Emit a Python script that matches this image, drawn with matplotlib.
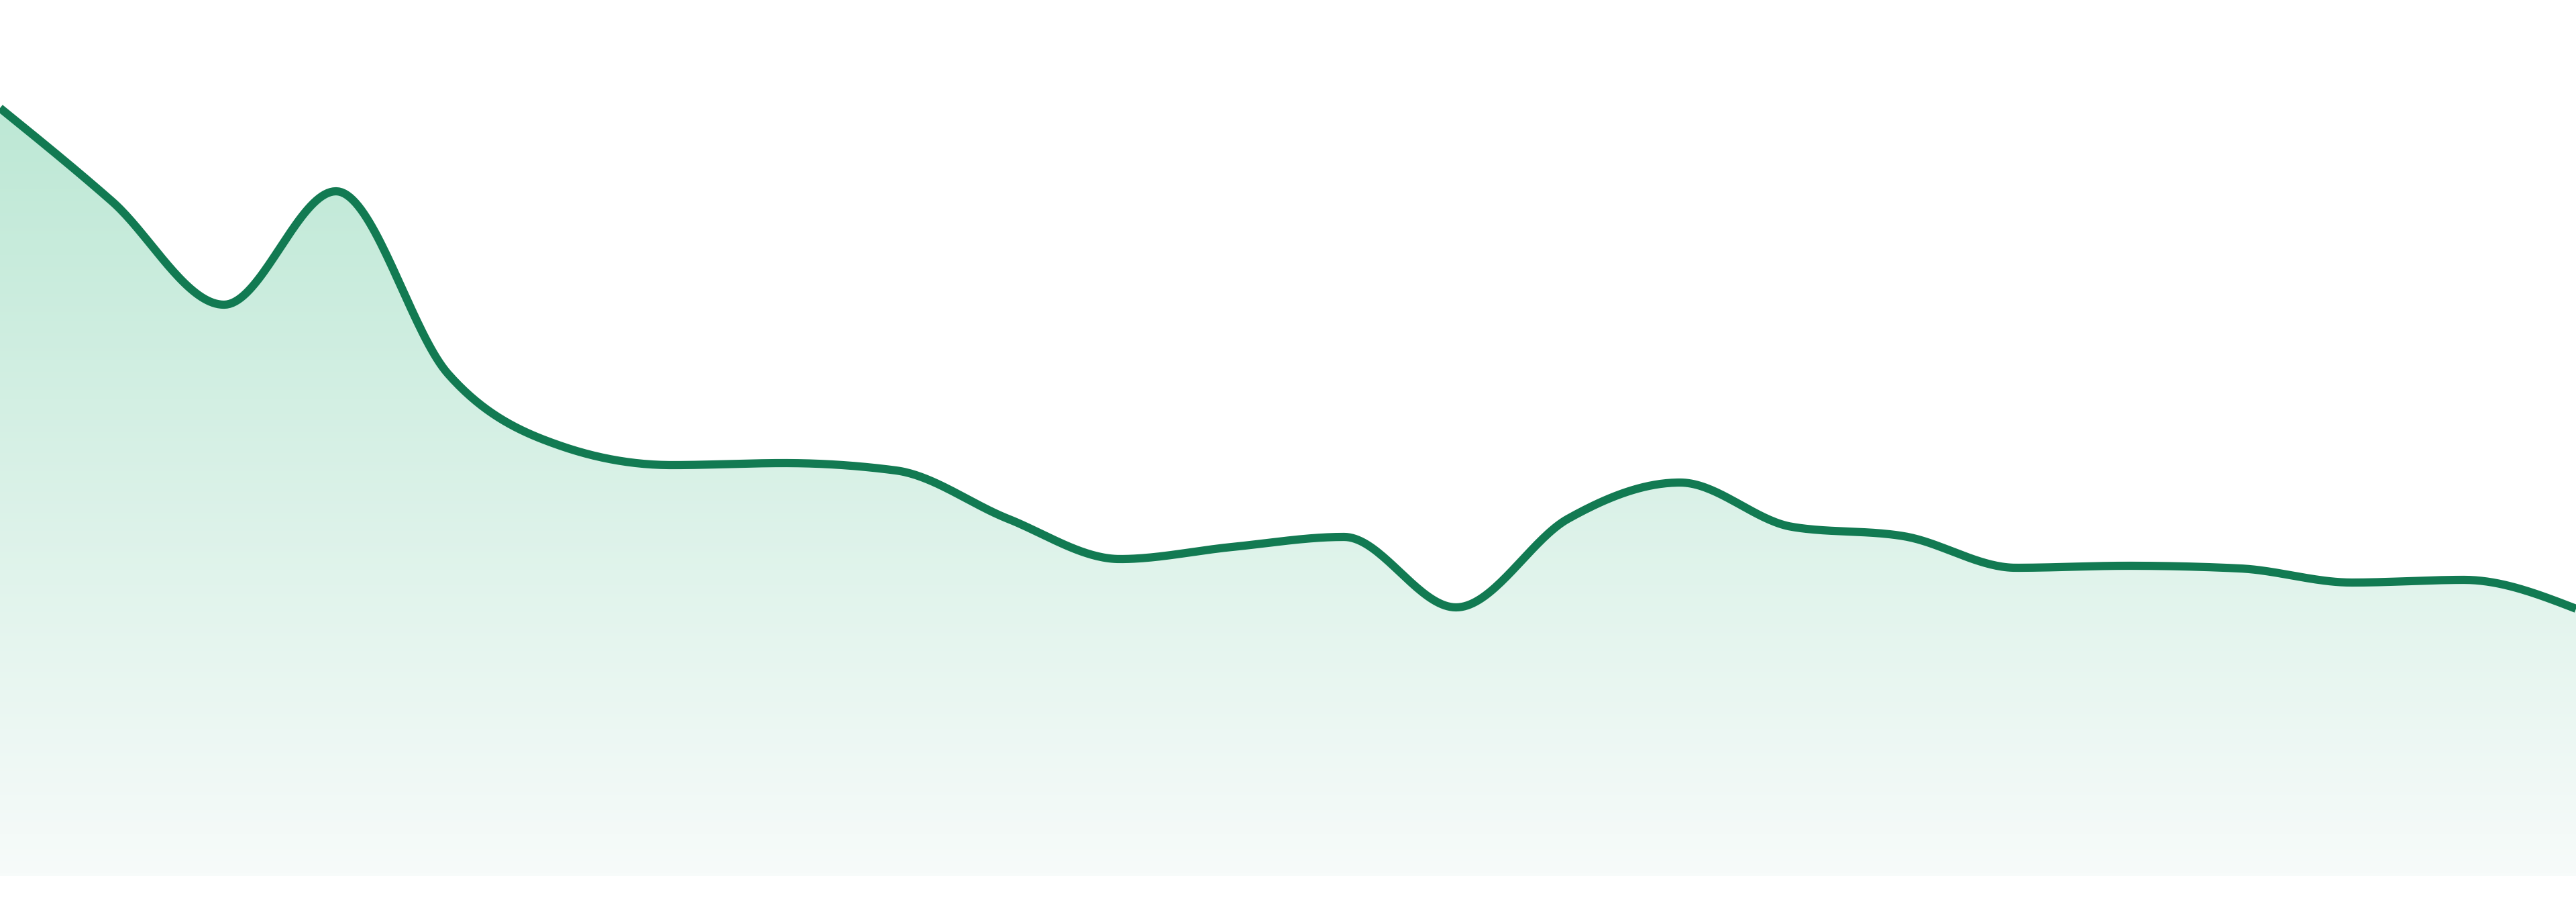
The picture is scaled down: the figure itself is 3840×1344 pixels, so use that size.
import numpy as np
import matplotlib
matplotlib.use("Agg")
import matplotlib.pyplot as plt
from matplotlib.colors import LinearSegmentedColormap

# values (arbitrary units, baseline = 0)
values = [114.4, 100.5, 85.1, 102.0, 74.8, 64.1, 61.2, 61.5, 60.4, 53.2,
          47.2, 49.0, 50.5, 40.0, 53.2, 58.6, 52.0, 50.6, 45.9, 46.2,
          45.8, 43.7, 44.1, 39.8]
line_color = "#127a52"
fill_top = "#bde8d5"
fill_bottom = "#f7fbfa"


def monotone_x(y, n=40):
    # d3 curveMonotoneX style smoothing
    y = np.asarray(y, dtype=float)
    x = np.arange(len(y), dtype=float)
    s = np.diff(y)
    t = np.zeros(len(y))
    for i in range(1, len(y) - 1):
        s0, s1 = s[i - 1], s[i]
        p = (s0 + s1) / 2
        t[i] = (np.sign(s0) + np.sign(s1)) * min(abs(s0), abs(s1), 0.5 * abs(p))
    t[0] = (3 * s[0] - t[1]) / 2
    t[-1] = (3 * s[-1] - t[-2]) / 2
    xs, ys = [], []
    for i in range(len(y) - 1):
        u = np.linspace(0, 1, n, endpoint=(i == len(y) - 2))
        h00 = 2 * u**3 - 3 * u**2 + 1
        h10 = u**3 - 2 * u**2 + u
        h01 = -2 * u**3 + 3 * u**2
        h11 = u**3 - u**2
        xs.append(x[i] + u)
        ys.append(h00 * y[i] + h10 * t[i] + h01 * y[i + 1] + h11 * t[i + 1])
    return np.concatenate(xs), np.concatenate(ys)


fig = plt.figure(figsize=(19.2, 6.72), dpi=200)
ax = fig.add_axes([0, 39 / 1344, 1, 1305 / 1344])
ax.set_xlim(0, len(values) - 1)
ax.set_ylim(0, 130.5)
ax.axis("off")

sx, sy = monotone_x(values)

# gradient fill under the curve
top = max(values)
cmap = LinearSegmentedColormap.from_list("g", [fill_bottom, fill_top])
grad = np.linspace(0, 1, 256).reshape(-1, 1)
img = ax.imshow(grad, cmap=cmap, aspect="auto", origin="lower",
                extent=[0, len(values) - 1, 0, top], zorder=1)
clip = plt.Polygon(np.column_stack([np.r_[sx, sx[-1], sx[0]],
                                    np.r_[sy, 0, 0]]),
                   transform=ax.transData, facecolor="none", edgecolor="none")
ax.add_patch(clip)
img.set_clip_path(clip)

ax.plot(sx, sy, color=line_color, lw=4.4, solid_capstyle="butt", zorder=3)

fig.savefig("out.png", dpi=200)
